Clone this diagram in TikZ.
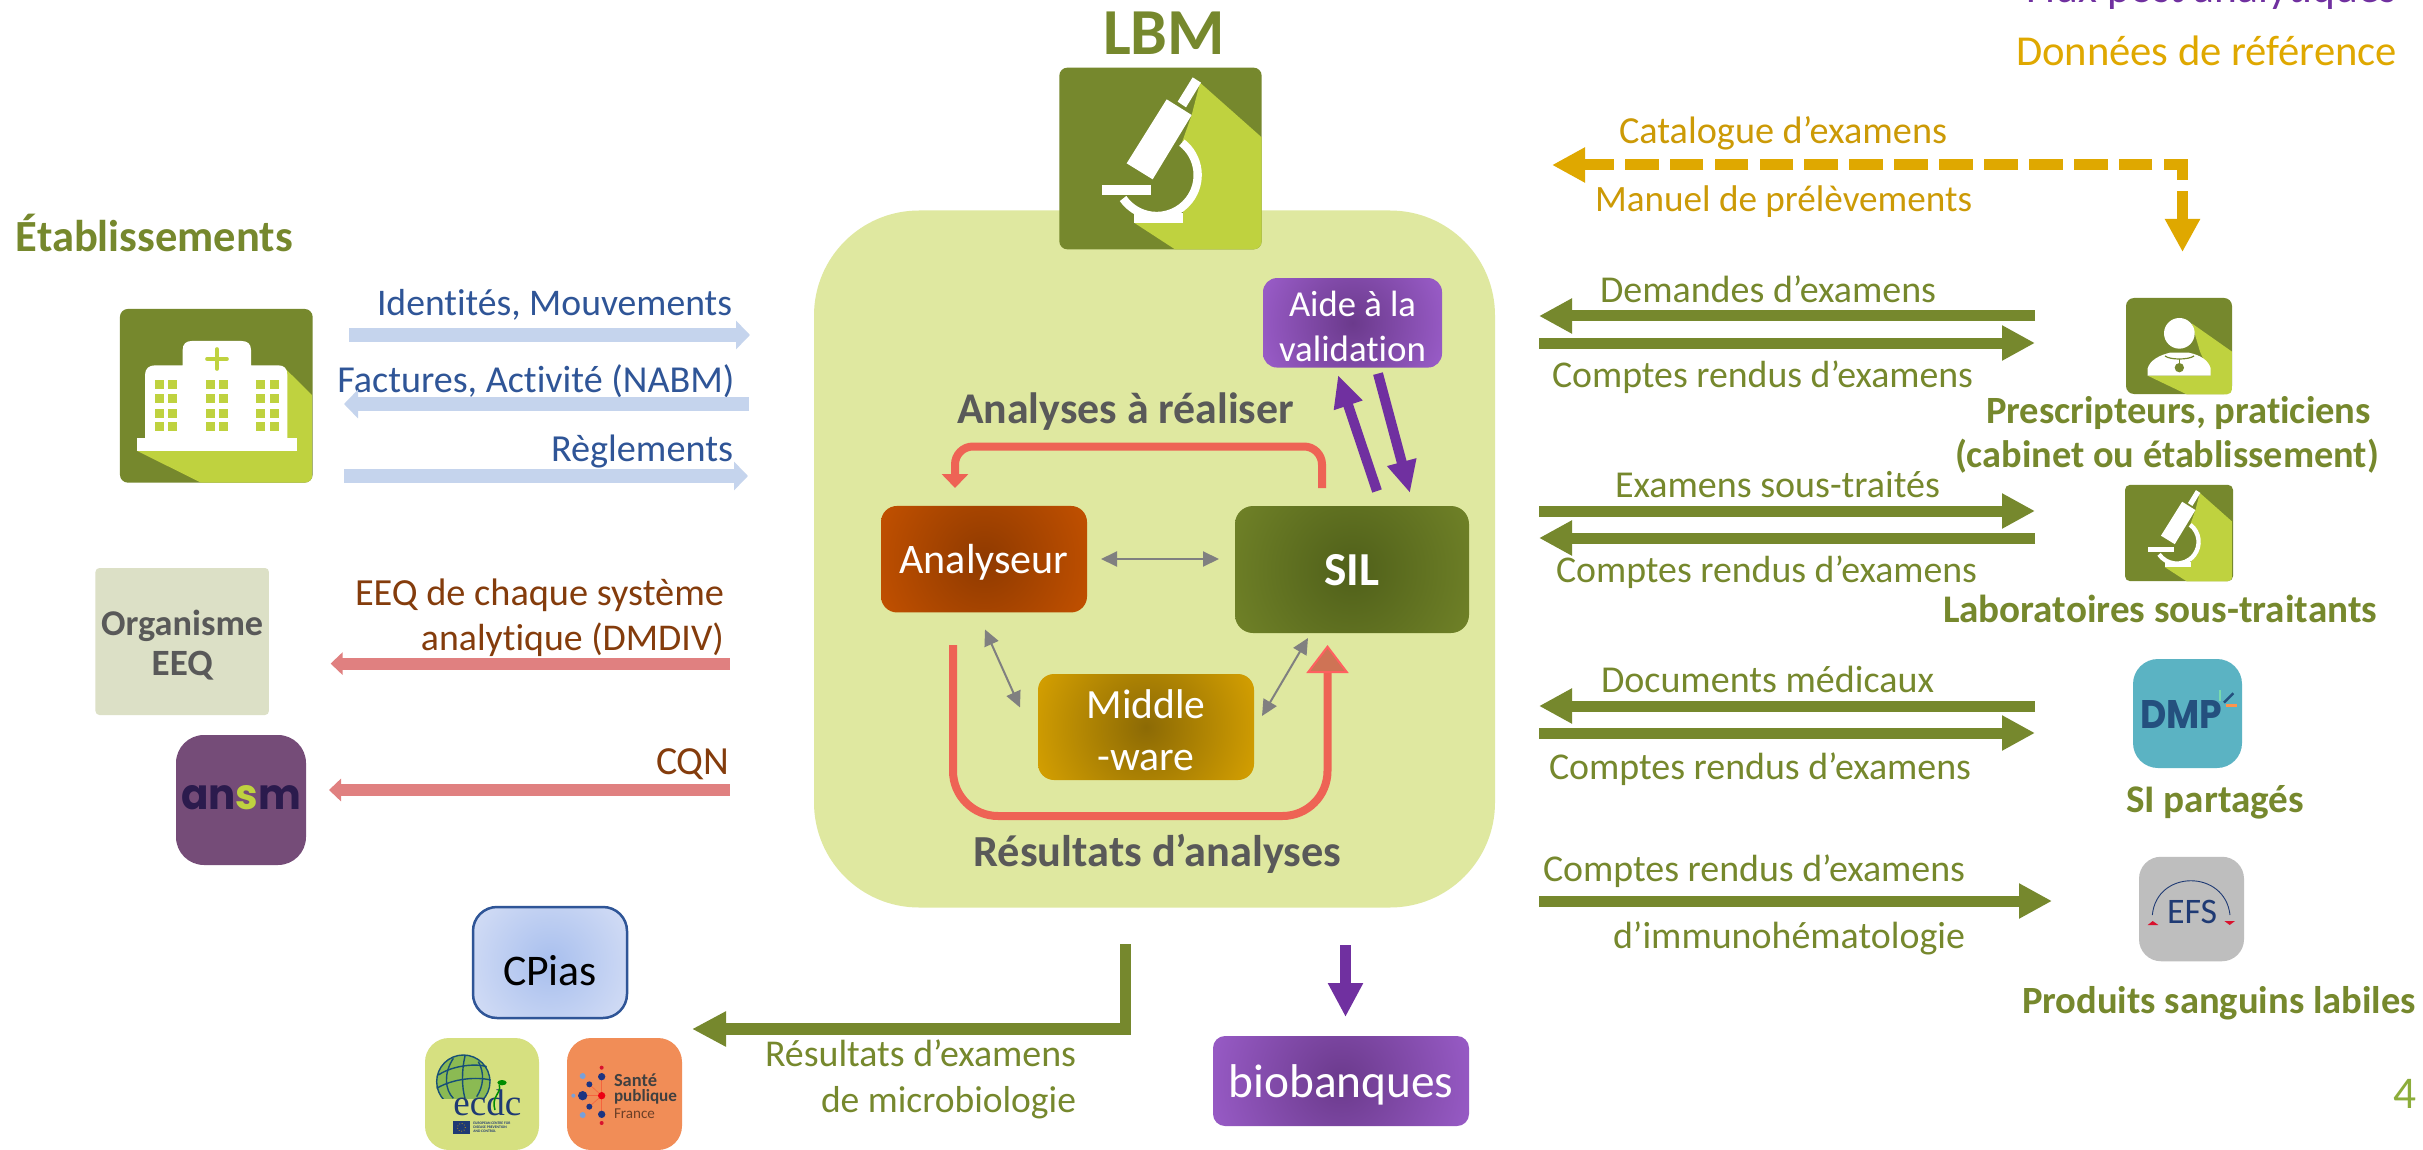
\documentclass[tikz,border=0pt]{standalone}
\usepackage{fontspec}
\setmainfont{Carlito}[Ligatures=NoCommon]
\newfontfamily\serifL{Liberation Serif}
\newfontfamily\popp{Poppins}
\usetikzlibrary{arrows.meta}
\definecolor{olive}{HTML}{76882D}
\definecolor{liteg}{HTML}{BFD23F}
\definecolor{panel}{HTML}{DFE8A0}
\definecolor{gtext}{HTML}{595959}
\definecolor{bluearr}{HTML}{C5D4ED}
\definecolor{bluetxt}{HTML}{2F5597}
\definecolor{redarr}{HTML}{E08080}
\definecolor{browntxt}{HTML}{843C0C}
\definecolor{amber}{HTML}{DFA800}
\definecolor{ambertxt}{HTML}{CC9A06}
\definecolor{purp}{HTML}{7030A0}
\definecolor{coral}{HTML}{EE6355}
\definecolor{coralhead}{HTML}{CF7355}
\definecolor{coraledge}{HTML}{FF6060}
\definecolor{orgbox}{HTML}{DCE0C6}
\definecolor{ansmc}{HTML}{754C78}
\definecolor{ansmt}{HTML}{2B1B4D}
\definecolor{ecdcbox}{HTML}{D6E080}
\definecolor{spfbox}{HTML}{F18D57}
\definecolor{dmpbox}{HTML}{5BB3C3}
\definecolor{dmpt}{HTML}{24507E}
\definecolor{efsbox}{HTML}{BEBEBE}
\definecolor{efst}{HTML}{1F3A74}
\definecolor{efsr}{HTML}{D9122E}
\definecolor{pagenum}{HTML}{8CAD3A}
\definecolor{cpa}{HTML}{6B3A8C}\definecolor{cpb}{HTML}{A464D6}
\definecolor{cba}{HTML}{8F3A00}\definecolor{cbb}{HTML}{CC5500}
\definecolor{coa}{HTML}{50601A}\definecolor{cob}{HTML}{76882A}
\definecolor{caa}{HTML}{8C6A05}\definecolor{cab}{HTML}{E5AC00}
\definecolor{cua}{HTML}{A8BFEE}\definecolor{cub}{HTML}{D9E1F6}
\pgfdeclareradialshading{glowp}{\pgfpoint{0bp}{0bp}}{color(0bp)=(cpa);color(34bp)=(cpb);color(50bp)=(cpb)}
\pgfdeclareradialshading{glowb}{\pgfpoint{0bp}{0bp}}{color(0bp)=(cba);color(34bp)=(cbb);color(50bp)=(cbb)}
\pgfdeclareradialshading{glowo}{\pgfpoint{0bp}{0bp}}{color(0bp)=(coa);color(34bp)=(cob);color(50bp)=(cob)}
\pgfdeclareradialshading{glowa}{\pgfpoint{0bp}{0bp}}{color(0bp)=(caa);color(34bp)=(cab);color(50bp)=(cab)}
\pgfdeclareradialshading{glowu}{\pgfpoint{0bp}{0bp}}{color(0bp)=(cua);color(34bp)=(cub);color(50bp)=(cub)}
\newcommand\tw[2]{\resizebox{#1pt}{!}{#2}}
\tikzset{
  every node/.style={inner sep=0pt,outer sep=0pt,font=\fontsize{40}{48}\selectfont},
  lab/.style={anchor=base west},
  bold/.style={font=\fontsize{40}{48}\selectfont\bfseries},
  lh/.style={font=\fontsize{40}{#1}\selectfont},
  lhb/.style={font=\fontsize{40}{#1}\selectfont\bfseries},
  iconbox/.style={fill=olive,rounded corners=8pt},
  glow/.style 2 args={path picture={\shade[shading=#1] (path picture bounding box.center) ++(-#2pt,-#2pt) rectangle ++(2*#2pt,2*#2pt);}},
  oarr/.style={draw=olive,line width=11pt,-{Triangle[length=33pt,width=33pt]}},
  barr/.style={draw=bluearr,line width=14pt,-{Triangle[length=14pt,width=28pt]}},
  rarr/.style={draw=redarr,line width=12pt,-{Triangle[length=12pt,width=22pt]}},
  parr/.style={draw=purp,line width=10pt,-{Triangle[length=32pt,width=28pt]}},
  garr/.style={draw=black!50,line width=2pt,{Triangle[length=16pt,width=15pt]}-{Triangle[length=16pt,width=15pt]}},
}
\newcommand\microscope[5]{%
\begin{scope}[shift={(#1,#2)},scale=#3]
 \begin{scope}
  \clip[rounded corners=#5pt] (178,203) rectangle (785,748);
  \fill[liteg] (600,248) -- (785,412) -- (785,748) -- (525,748) -- (402,668) -- (549,668) -- (549,619)
     arc[start angle=50,end angle=-52,radius=123] -- (575,345) -- cycle;
 \end{scope}
 \fill[white] (380,490) -- (500,298) -- (575,345) -- (458,538) -- cycle;
 \fill[white] (578,232) -- (603,248) -- (558,322) -- (533,305) -- cycle;
 \fill[white] (402,640) rectangle (549,668);
 \fill[white] (306,555) rectangle (453,585);
 \draw[white,line width=#4pt] (545.7,428.1) arc[start angle=-52,end angle=145,radius=123];
\end{scope}}
\begin{document}
\begin{tikzpicture}[x=1pt,y=1pt,yscale=-1]
\useasboundingbox (0,0) rectangle (2423,1150);
\fill[white] (0,0) rectangle (2423,1150);

% central panel
\node[fill=panel,rounded corners=105pt,minimum width=681pt,minimum height=697pt] (panel) at (1154.5,559) {};

% LBM
\node[lab,bold,text=olive] (lbm) at (1103,55) {\tw{122}{LBM}};
\node[iconbox,minimum width=202.3pt,minimum height=181.7pt] (lbmicon) at (1160.5,158.5) {};
\microscope{1000}{0}{0.33333}{8.3}{8}

% top right legends
\node[lab,text=purp] (flux) at (2026,3) {\tw{371}{Flux post analytiques}};
\node[lab,text=amber] (donnees) at (2016,66) {\tw{381}{Données de référence}};

% left
\node[lab,bold,text=olive] (etab) at (16,252) {\tw{277}{Établissements}};
\node[iconbox,minimum width=192.7pt,minimum height=173.7pt] (hosp) at (216.3,395.8) {};
\begin{scope}[shift={(100,300)},scale=0.33333]
  \begin{scope}
  \clip[rounded corners=8pt] (60,27) rectangle (638,548);
  \fill[liteg] (555,205) -- (638,287) -- (638,548) -- (303,548) -- (110,452) -- (555,452) -- cycle;
  \end{scope}
  \fill[white] (110,415) rectangle (590,452);
  \fill[white] (135,420) -- (135,225) .. controls (135,205) and (148,196) .. (165,196) -- (248,196) -- (248,150)
     .. controls (248,132) and (258,123) .. (275,123) -- (425,123) .. controls (443,123) and (453,132) .. (453,150)
     -- (453,196) -- (535,196) .. controls (552,196) and (562,205) .. (562,225) -- (562,420) -- cycle;
  \foreach \xx in {165,204,318,357,468,510}
    \foreach \yy in {240,282,327,366}
      \fill[liteg] (\xx,\yy) rectangle ++(27,27);
  \draw[liteg,line width=3.6pt,line cap=round] (321,177) -- (381,177);
  \draw[liteg,line width=3.6pt,line cap=round] (351,147) -- (351,207);
\end{scope}

\node[lab,text=bluetxt] (t1) at (377,316) {\tw{355}{Identités, Mouvements}};
\node[lab,text=bluetxt] (t2) at (337.4,392) {\tw{397}{Factures, Activité (NABM)}};
\node[lab,text=bluetxt] (t3) at (551,461.5) {\tw{182}{Règlements}};
\coordinate (b1s) at (349,335); \coordinate (b1e) at (750,335);
\coordinate (b2s) at (749,404); \coordinate (b2e) at (344,404);
\coordinate (b3s) at (344,476); \coordinate (b3e) at (748,476);
\draw[barr] (b1s) -- (b1e);
\draw[barr] (b2s) -- (b2e);
\draw[barr] (b3s) -- (b3e);

\node[fill=orgbox,rounded corners=4pt,minimum width=173.5pt,minimum height=147pt,text=gtext,align=center,lhb=40.5] (org) at (182.2,641.5)
  {\rule{0pt}{33pt}\tw{162}{Organisme}\\\tw{61}{EEQ}};
\node[fill=ansmc,rounded corners=28pt,minimum width=130pt,minimum height=130pt,text=ansmt,text height=18pt,text depth=0pt,font=\fontsize{40}{48}\selectfont\popp\bfseries] (ansm) at (241,800)
  {\resizebox{120pt}{24pt}{an{\color{liteg}s}m}};

\node[anchor=base east,text=browntxt,align=right,lh=44.5] (eeqt) at (724,650) {\tw{369}{EEQ de chaque système}\\\tw{303}{analytique (DMDIV)}};
\node[lab,text=browntxt] (cqn) at (656,774) {\tw{73.5}{CQN}};
\coordinate (r1s) at (729.5,663.6); \coordinate (r1e) at (330.6,663.6);
\coordinate (r2s) at (729.5,790); \coordinate (r2e) at (329,790);
\draw[rarr] (r1s) -- (r1e);
\draw[rarr] (r2s) -- (r2e);

% inside panel
\node[glow={glowp}{89.5},rounded corners=14pt,minimum width=179pt,minimum height=89.5pt,text=white,align=center,lh=44.5] (aide) at (1352.5,322.8)
  {\rule{0pt}{33pt}\tw{127}{Aide à la}\\\tw{147}{validation}};
\node[glow={glowb}{103},rounded corners=16pt,minimum width=206pt,minimum height=106.5pt,text=white,text height=28pt,text depth=0pt] (analyseur) at (984,559.2)
  {\tw{169}{Analyseur}};
\node[glow={glowo}{117},rounded corners=18pt,minimum width=234pt,minimum height=127pt,text=white,text height=31pt,text depth=0pt,bold] (sil) at (1352,569.5)
  {\tw{55}{SIL}};
\node[glow={glowa}{108},rounded corners=16pt,minimum width=216pt,minimum height=106pt,text=white,align=center,lh=52] (middle) at (1146,727)
  {\rule{0pt}{36pt}\tw{119}{Middle}\\\tw{97}{-ware}};
\node[lab,bold,text=gtext] (aar) at (957,423) {\tw{337}{Analyses à réaliser}};
\node[lab,bold,text=gtext] (rda) at (973.5,866) {\tw{368}{Résultats d’analyses}};

% red flows
\coordinate (t1s) at (1322,488); \coordinate (tcor) at (1140,446.5); \coordinate (t1e) at (955,488);
\draw[draw=coral,line width=8pt,rounded corners=18pt,-{Triangle[length=14pt,width=26pt]}]
  (t1s) -- (t1s |- tcor) -- (t1e |- tcor) -- (t1e);
\coordinate (b0s) at (953,645); \coordinate (bcor) at (1140,816); \coordinate (b0e) at (1327.5,645);
\draw[draw=coral,line width=8pt,rounded corners=45pt,-{Triangle[length=28pt,width=42pt,line width=2pt,color=coraledge,fill=coralhead]}]
  (b0s) -- (b0s |- bcor) -- (b0e |- bcor) -- (b0e);

% grey
\coordinate (g1a) at (1101,559); \coordinate (g1b) at (1219,559);
\coordinate (g2a) at (985,629.5); \coordinate (g2b) at (1020,707.5);
\coordinate (g3a) at (1262,716); \coordinate (g3b) at (1308,638);
\draw[garr] (g1a) -- (g1b);
\draw[garr] (g2a) -- (g2b);
\draw[garr] (g3a) -- (g3b);

% purple
\coordinate (p1s) at (1377,491); \coordinate (p1e) at (1338,375);
\coordinate (p2s) at (1378,373.6); \coordinate (p2e) at (1410,493);
\draw[parr] (p1s) -- (p1e);
\draw[parr] (p2s) -- (p2e);

% bottom
\node[glow={glowu}{77},draw=bluetxt,line width=2.5pt,rounded corners=24pt,minimum width=154pt,minimum height=111pt,text=black,text height=45pt,text depth=0pt] (cpias) at (550,962.5)
  {\tw{94}{CPias}};
\node[fill=ecdcbox,rounded corners=24pt,minimum width=114pt,minimum height=112pt] (ecdc) at (482,1094) {};
\node[fill=spfbox,rounded corners=24pt,minimum width=115pt,minimum height=112pt] (spf) at (624.5,1094) {};

\begin{scope}[shift={(420,1030)},scale=0.33333]
  \begin{scope}
    \clip (40,70) rectangle (225,205);
    \fill[green!45!black!35!ecdcbox] (130,155) circle[radius=80];
    \draw[efst!70!teal,line width=1.4pt] (130,155) circle[radius=80];
  \end{scope}
  \draw[efst!70!teal,line width=1.4pt] (100,85) .. controls (70,130) and (75,180) .. (100,205);
  \draw[efst!70!teal,line width=1.4pt] (135,78) .. controls (125,120) and (125,170) .. (135,205);
  \draw[efst!70!teal,line width=1.4pt] (175,95) .. controls (195,130) and (190,170) .. (170,200);
  \draw[efst!70!teal,line width=1.4pt] (55,135) .. controls (100,105) and (170,100) .. (200,110);
  \draw[efst!70!teal,line width=1.4pt] (50,175) .. controls (100,145) and (170,140) .. (212,150);
  \node[lab,text=efst,font=\fontsize{30}{36}\selectfont\serifL] (ecdct) at (100,255) {\tw{68}{ecdc}};
  \draw[green!55!black,line width=1.5pt] (225,240) .. controls (212,200) and (245,190) .. (238,165);
  \fill[green!55!black] (246,158) ellipse[x radius=14,y radius=8];
  \fill[efst] (98,272) rectangle (150,312);
  \draw[amber,line width=0.7pt,dotted] (124,292) circle[radius=12];
  \node[anchor=north west,text=efst,align=left,font=\fontsize{3.7}{3.9}\selectfont\bfseries] (ecdcs) at (160,276) {EUROPEAN CENTRE FOR\\DISEASE PREVENTION\\AND CONTROL};
\end{scope}

\begin{scope}[shift={(420,1030)},scale=0.33333]
  \foreach \xx/\yy in {508/163,508/230,488/197,545/140,545/253}
    \draw[red!30!spfbox,line width=0.6pt] (545,197) -- (\xx,\yy);
  \fill[efsr] (545,113) circle[radius=6];
  \fill[efsr] (545,279) circle[radius=6];
  \fill[efst!90!blue] (545,140) circle[radius=11];
  \fill[efst!90!blue] (545,253) circle[radius=11];
  \fill[efst!90!blue] (508,163) circle[radius=9];
  \fill[efst!90!blue] (508,230) circle[radius=9];
  \fill[efst!90!blue] (488,197) circle[radius=14];
  \fill[red!70!purple] (545,197) circle[radius=11];
  \fill[cyan!50!blue!55!white] (488,138) circle[radius=9];
  \fill[cyan!50!blue!55!white] (488,255) circle[radius=9];
  \fill[cyan!50!blue!55!white] (460,197) circle[radius=6];
  \node[lab,text=black!75,font=\fontsize{17}{20}\selectfont\bfseries] (spf1) at (582,168) {\tw{43}{Santé}};
  \node[lab,text=black!75,font=\fontsize{17}{20}\selectfont\bfseries] (spf2) at (582,215) {\tw{63}{publique}};
  \node[lab,text=black!55!spfbox,font=\fontsize{17}{20}\selectfont] (spf3) at (582,265) {\tw{41}{France}};
\end{scope}

\node[anchor=base east,text=olive,align=right,lh=46] (mic) at (1076,1112) {\tw{311}{Résultats d’examens}\\\tw{255}{de microbiologie}};
\coordinate (m1s) at (1125.5,944); \coordinate (m1c) at (1125.5,1029); \coordinate (m1e) at (692,1029);
\draw[draw=olive,line width=11.5pt,miter limit=10,-{Triangle[length=34pt,width=33pt]}] (m1s) -- (m1c) -- (m1e);

\coordinate (bio1) at (1345.5,945); \coordinate (bio2) at (1345.5,1017);
\draw[draw=purp,line width=11pt,-{Triangle[length=34pt,width=33pt]}] (bio1) -- (bio2);
\node[glow={glowp}{128},rounded corners=12pt,minimum width=256pt,minimum height=90pt,text=white,text height=32pt,text depth=0pt] (bio) at (1341,1081)
  {\tw{225}{biobanques}};

% right: yellow dashed
\node[lab,text=ambertxt] (cat) at (1619,144) {\tw{328}{Catalogue d’examens}};
\node[lab,text=ambertxt] (man) at (1595,212) {\tw{377}{Manuel de prélèvements}};
\coordinate (y1) at (2182.5,252); \coordinate (yc) at (2182.5,165); \coordinate (y2) at (1552,165);
\draw[draw=amber,line width=11pt,dash pattern=on 33.7pt off 11.2pt,dash phase=3.7pt,
  {Triangle[length=33pt,width=33pt]}-{Triangle[length=33pt,width=33pt]}] (y1) -- (yc) -- (y2);

% right: olive arrows
\node[lab,text=olive] (o1) at (1600,302) {\tw{336}{Demandes d’examens}};
\node[lab,text=olive] (o2) at (1552,387) {\tw{421}{Comptes rendus d’examens}};
\node[lab,text=olive] (o3) at (1615,497) {\tw{325}{Examens sous-traités}};
\node[lab,text=olive] (o4) at (1556,582) {\tw{421}{Comptes rendus d’examens}};
\node[lab,text=olive] (o5) at (1601,692) {\tw{333}{Documents médicaux}};
\node[lab,text=olive] (o6) at (1549,779) {\tw{422}{Comptes rendus d’examens}};
\node[lab,text=olive] (o7) at (1543,881) {\tw{422}{Comptes rendus d’examens}};
\node[lab,text=olive] (o8) at (1613,948) {\tw{352}{d’immunohématologie}};
\coordinate (a1s) at (2035,316); \coordinate (a1e) at (1539,316);
\coordinate (a2s) at (1539,343); \coordinate (a2e) at (2035,343);
\coordinate (a3s) at (1539,511); \coordinate (a3e) at (2035,511);
\coordinate (a4s) at (2035,538); \coordinate (a4e) at (1539,538);
\coordinate (a5s) at (2035,706); \coordinate (a5e) at (1539,706);
\coordinate (a6s) at (1539,733); \coordinate (a6e) at (2035,733);
\coordinate (a7s) at (1539,901); \coordinate (a7e) at (2052,901);
\draw[oarr] (a1s) -- (a1e);
\draw[oarr] (a2s) -- (a2e);
\draw[oarr] (a3s) -- (a3e);
\draw[oarr] (a4s) -- (a4e);
\draw[oarr] (a5s) -- (a5e);
\draw[oarr] (a6s) -- (a6e);
\draw[oarr] (a7s) -- (a7e);

% right: icons
\node[iconbox,minimum width=106pt,minimum height=96pt] (doc) at (2179,346) {};
\begin{scope}[shift={(2000,280)},scale=0.33333]
  \begin{scope}
    \clip[rounded corners=5pt] (378,55) rectangle (696,343);
    \fill[liteg] (575,130) -- (696,215) -- (696,343) -- (560,343) -- (443,287) -- (632,287) -- (600,215) -- cycle;
  \end{scope}
  \fill[white] (538,160) circle[radius=46];
  \fill[white] (443,287) -- (443,265) .. controls (450,240) and (480,225) .. (510,218) -- (566,218) .. controls (600,225) and (625,240) .. (632,265) -- (632,287) -- cycle;
  \draw[olive,line width=1.2pt] (495,228) .. controls (510,240) and (565,240) .. (582,228);
  \draw[olive,line width=1.2pt] (538,236) -- (538,255);
  \fill[olive] (538,263) circle[radius=14];
\end{scope}
\node[anchor=base west,text=olive,align=left,lhb=44.7] (doct) at (1955,467.7)
  {\hspace*{31pt}\tw{385}{Prescripteurs, praticiens}\\\tw{424}{(cabinet ou établissement)}};

\node[iconbox,rounded corners=5pt,minimum width=108pt,minimum height=96.3pt] (labicon) at (2179,533) {};
\microscope{2093.8}{449.1}{0.1767}{4.4}{5}
\node[lab,bold,text=olive] (labt) at (1943,622) {\tw{434}{Laboratoires sous-traitants}};

\node[fill=dmpbox,rounded corners=25pt,minimum width=109pt,minimum height=109pt] (dmp) at (2187.5,713.5) {};
\node[lab,text=dmpt,font=\fontsize{30}{36}\selectfont\popp\bfseries] (dmpt1) at (2140,728) {\resizebox{82pt}{28pt}{DMP}};
\begin{scope}[shift={(2000,640)},scale=0.33333]
  \draw[green!30!dmpbox!70!white,line width=2pt] (660,150) -- (660,182);
  \draw[dmpt,line width=2.5pt] (672,188) -- (700,160);
  \draw[orange!80!red!70!white,line width=3pt] (677,197) -- (712,197);
\end{scope}
\node[lab,bold,text=olive] (sip) at (2126,812) {\tw{178}{SI partagés}};

\node[fill=efsbox,rounded corners=22pt,minimum width=105pt,minimum height=104.5pt] (efs) at (2191.5,909) {};
\node[lab,text=efst] (efst1) at (2167,923) {\tw{50}{EFS}};
\begin{scope}[shift={(2000,640)},scale=0.33333]
  \draw[efst,line width=0.9pt] (457,825) .. controls (470,688) and (675,688) .. (690,825);
  \fill[efsr] (443,855) -- (475,855) -- (458,843) -- cycle;
  \fill[efsr] (673,843) -- (705,843) -- (689,855) -- cycle;
\end{scope}
\node[lab,bold,text=olive] (psl) at (2022,1013) {\tw{394}{Produits sanguins labiles}};
\node[lab,text=pagenum] (num) at (2393,1108) {\tw{23}{4}};
\end{tikzpicture}
\end{document}
